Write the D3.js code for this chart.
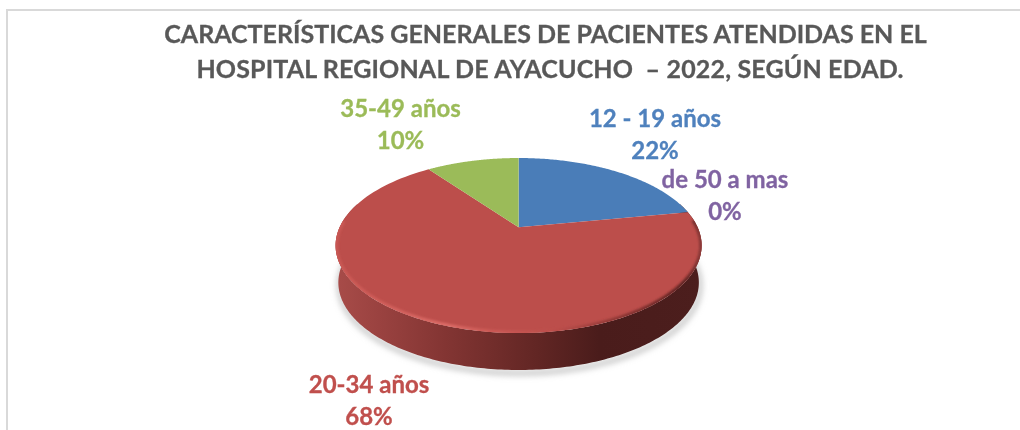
<!DOCTYPE html>
<html><head><meta charset="utf-8">
<script src="https://cdn.jsdelivr.net/npm/d3@7/dist/d3.min.js"></script>
<style>html,body{margin:0;padding:0;background:#fff;overflow:hidden}svg{display:block}</style>
</head><body><svg id="c" width="1020" height="430"></svg>
<script>
const categories = ["12 - 19 años","20-34 años","35-49 años","de 50 a mas"];
const values = [22,68,10,0];
const colors = ["#4a7db8","#bc4e4b","#9bbb59","#8064a2"];
const labelColors = ["#4f81bd","#c0504d","#9bbb59","#8064a2"];
const titleLines = ["CARACTERÍSTICAS GENERALES DE PACIENTES ATENDIDAS EN EL","HOSPITAL REGIONAL DE AYACUCHO  – 2022, SEGÚN EDAD."];
const titlePos = [[545.5,43],[550,78]];
const titleSpacing = [0,0.16];
const labelPos = [[655,127],[369,393],[400.5,117],[725,188]];

const svg = d3.select("#c");
const font = "Lato, Carlito, sans-serif";
const defs = svg.append("defs");

// perspective disc
const apex = {x:518.6,y:227.3}, k=0.208, a=83.7, b=179, depth=37;
function proj(t){const X=Math.sin(t),Y=Math.cos(t),w=1+k*Y;
  return [apex.x+b*X/w, apex.y-a*Y/w];}
const pie = d3.pie().sort(null).value(d=>d).startAngle(0).endAngle(2*Math.PI);
const arcs = pie(values);
const line = d3.line();
const samples=(t0,t1,n=120)=>d3.range(n+1).map(i=>t0+(t1-t0)*i/n);
function slicePath(d){return line([[apex.x,apex.y],...samples(d.startAngle,d.endAngle).map(t=>proj(t))])+"Z";}

// gradients
const wall=defs.append("linearGradient").attr("id","wall").attr("gradientUnits","userSpaceOnUse")
  .attr("x1",335).attr("x2",702).attr("y1",0).attr("y2",0);
[[0,"#a84c49"],[0.12,"#9a4240"],[0.3,"#833533"],[0.55,"#622624"],[0.72,"#4a1c1b"],[1,"#4c1e1d"]]
  .forEach(s=>wall.append("stop").attr("offset",s[0]).attr("stop-color",s[1]));
const bev=defs.append("linearGradient").attr("id","bev").attr("gradientUnits","userSpaceOnUse")
  .attr("x1",335).attr("x2",702).attr("y1",0).attr("y2",0);
[[0,"#c95854"],[0.12,"#d05e5a"],[0.3,"#dc6c67"],[0.42,"#cc5a56"],[0.6,"#bc4e4b"],[0.78,"#8a3533"],[0.95,"#5f2423"],[1,"#8c3a38"]]
  .forEach(s=>bev.append("stop").attr("offset",s[0]).attr("stop-color",s[1]));
defs.append("filter").attr("id","soft").attr("x","-20%").attr("y","-20%").attr("width","140%").attr("height","140%")
  .append("feGaussianBlur").attr("stdDeviation",3);
defs.append("filter").attr("id","soft1").attr("x","-5%").attr("y","-5%").attr("width","110%").attr("height","110%")
  .append("feGaussianBlur").attr("stdDeviation",1.1);
defs.append("filter").attr("id","txt").attr("x","-5%").attr("y","-20%").attr("width","110%").attr("height","140%")
  .append("feGaussianBlur").attr("stdDeviation",0.45);
defs.append("clipPath").attr("id","disc").append("path")
  .attr("d",line(samples(0,2*Math.PI,360).map(t=>proj(t)))+"Z");

// frame
svg.append("path").attr("d","M7 430V10H1020").attr("fill","none").attr("stroke","#d9d9d9").attr("stroke-width",2);

// title
svg.append("g").attr("filter","url(#txt)").selectAll("text").data(titleLines).join("text")
  .attr("x",(d,i)=>titlePos[i][0]).attr("y",(d,i)=>titlePos[i][1]).attr("text-anchor","middle")
  .attr("font-family",font).attr("font-weight",700).attr("font-size",25).attr("fill","#595959")
  .attr("stroke","#595959").attr("stroke-width",0.3)
  .attr("letter-spacing",(d,i)=>titleSpacing[i])
  .style("white-space","pre").text(d=>d);

// wall: outer rim, lower half, pulled in slightly at the foot
const lower=samples(Math.PI/2-0.3,Math.PI*1.5+0.3,240);
const foot=t=>{const p=proj(t);return [apex.x+(p[0]-apex.x)*0.985,p[1]+depth];};
const wallPts=[...lower.map(t=>proj(t)),...lower.slice().reverse().map(foot)];

// shadow
svg.append("path").attr("d",line(lower.map(t=>{const p=foot(t);return [p[0]+1,p[1]+3];}))).attr("fill","none")
  .attr("stroke","#b5b5b5").attr("stroke-width",4).attr("filter","url(#soft)");

svg.append("path").attr("d",line(wallPts)+"Z").attr("fill","url(#wall)");

// slices
svg.append("g").selectAll("path").data(arcs).join("path")
  .attr("d",slicePath).attr("fill",(d,i)=>colors[i]);

// bevel on the red slice's rim, kept inside the disc
const red=arcs[1];
const redLow=samples(red.startAngle+0.1,Math.PI*1.5+0.08,200);
svg.append("g").attr("clip-path","url(#disc)").append("path")
  .attr("d",line(redLow.map(t=>proj(t))))
  .attr("fill","none").attr("stroke","url(#bev)").attr("stroke-width",5).attr("filter","url(#soft1)");

// labels
const lab=svg.append("g").attr("filter","url(#txt)").selectAll("g").data(categories).join("g")
  .attr("transform",(d,i)=>`translate(${labelPos[i][0]},${labelPos[i][1]})`)
  .attr("fill",(d,i)=>labelColors[i]).attr("stroke",(d,i)=>labelColors[i]).attr("stroke-width",0.3)
  .attr("font-family",font).attr("font-weight",700).attr("font-size",24).attr("text-anchor","middle");
lab.append("text").text(d=>d);
lab.append("text").attr("y",32).text((d,i)=>values[i]+"%");
</script></body></html>
